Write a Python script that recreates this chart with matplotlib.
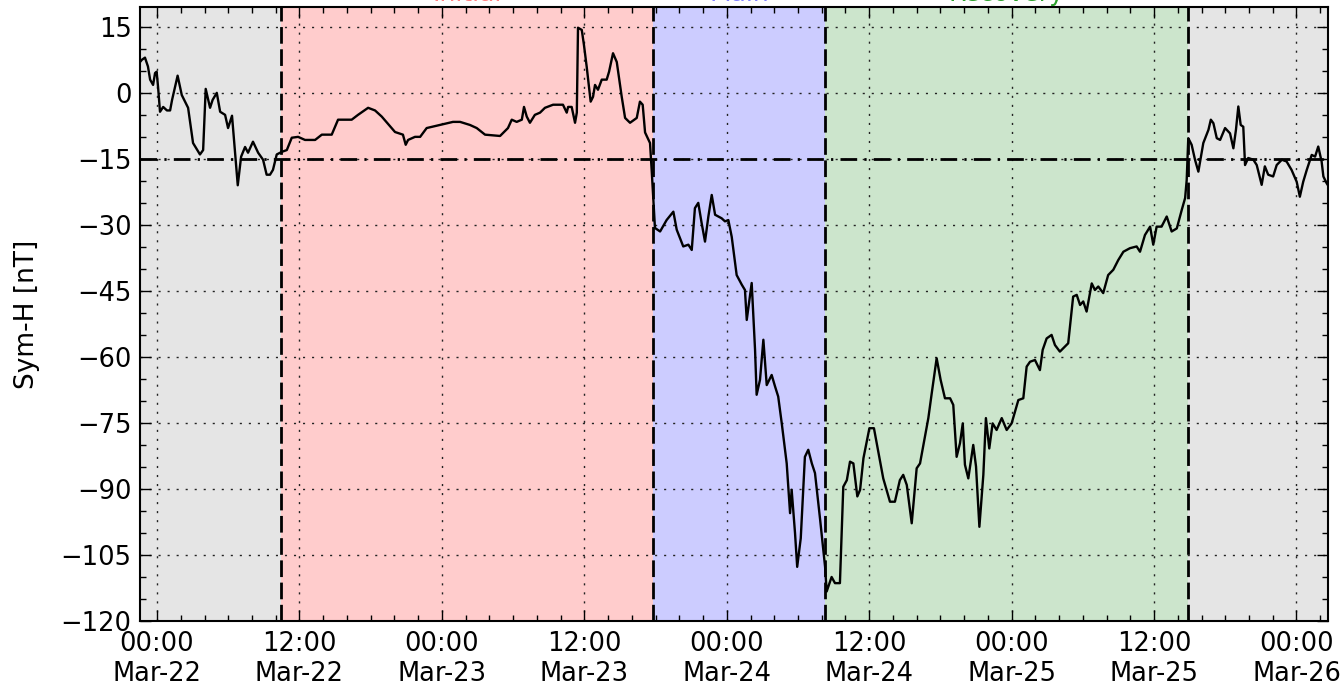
import numpy as np
import matplotlib
matplotlib.use("Agg")
import matplotlib.pyplot as plt
import matplotlib.dates as mdates
from matplotlib.ticker import MultipleLocator
from matplotlib.transforms import blended_transform_factory

# hours after 00:00 Mar-22 and Sym-H [nT]
hours = [
    -1.43, -1.29, -1.01, -0.76, -0.59, -0.34, -0.17, -0.03, 0.08, 0.25, 0.51, 0.84, 1.10, 1.26,
    1.74, 2.08, 2.61, 3.03, 3.62, 3.88, 4.10, 4.47, 4.69, 5.03, 5.31, 5.73, 5.98, 6.32,
    6.49, 6.80, 7.08, 7.41, 7.67, 8.09, 8.51, 8.93, 9.24, 9.52, 9.77, 10.08, 10.51, 10.93,
    11.35, 11.88, 12.47, 13.31, 13.88, 14.72, 15.25, 16.40, 16.93, 17.78, 18.37, 18.93, 20.05,
    20.72, 20.95, 21.15, 21.74, 22.16, 22.72, 23.84, 24.94, 25.53, 26.37, 26.93, 27.63, 28.90,
    29.57, 29.88, 30.30, 30.73, 30.92, 31.15, 31.42, 31.84, 32.27, 32.69, 33.36, 34.20, 34.52,
    34.63, 34.94, 35.21, 35.36, 35.47, 35.78, 35.97, 36.20, 36.54, 36.73, 36.90, 37.15, 37.46,
    37.89, 38.08, 38.42, 38.73, 39.15, 39.43, 39.85, 40.41, 40.69, 40.92, 41.11, 41.53, 41.68,
    41.81, 41.95, 42.38, 42.94, 43.50, 43.78, 44.34, 44.76, 45.05, 45.32, 45.60, 45.89, 46.17,
    46.45, 46.73, 47.01, 47.57, 47.85, 48.13, 48.42, 48.84, 49.26, 49.54, 49.68, 50.10, 50.38,
    50.52, 50.80, 51.08, 51.36, 51.79, 52.06, 52.34, 52.63, 53.05, 53.33, 53.47, 53.75, 53.94,
    54.23, 54.59, 54.87, 55.16, 55.43, 55.86, 56.28, 56.42, 56.84, 57.12, 57.54, 57.82, 58.11,
    58.38, 58.66, 59.00, 59.23, 59.51, 60.01, 60.40, 61.19, 61.75, 62.17, 62.59, 62.87, 63.16,
    63.58, 64.00, 64.28, 64.56, 64.98, 65.27, 65.69, 66.02, 66.39, 66.81, 67.09, 67.37, 67.65,
    67.88, 68.07, 68.35, 68.77, 69.00, 69.28, 69.62, 69.84, 70.12, 70.40, 70.74, 71.16, 71.58,
    72.00, 72.56, 72.98, 73.27, 73.55, 73.97, 74.39, 74.62, 74.95, 75.37, 75.65, 76.07, 76.77,
    77.19, 77.48, 77.76, 78.04, 78.32, 78.75, 79.02, 79.30, 79.72, 80.14, 80.57, 80.99, 81.41,
    81.97, 82.54, 82.81, 83.24, 83.66, 83.94, 84.22, 84.64, 85.06, 85.48, 85.91, 86.33, 86.61,
    86.75, 86.89, 87.17, 87.45, 87.73, 88.15, 88.58, 88.78, 89.00, 89.28, 89.56, 89.98, 90.40,
    90.68, 90.90, 91.10, 91.30, 91.52, 91.66, 91.94, 92.36, 92.65, 93.07, 93.34, 93.62, 94.04,
    94.33, 94.76, 95.17, 95.59, 96.01, 96.29, 96.57, 96.86, 97.28, 97.56, 97.84, 98.12, 98.26,
    98.54, 98.65,
]
symh = [
    7.0, 7.5, 8.0, 6.0, 3.0, 1.8, 4.5, 4.8, 1.4, -4.3, -3.2, -4.0, -4.0, -1.6,
    3.9, -0.5, -3.4, -11.4, -14.0, -13.0, 0.9, -3.4, -1.6, 0.0, -4.3, -5.0, -8.0, -5.2,
    -10.7, -21.0, -14.5, -12.3, -13.6, -11.1, -13.6, -15.2, -18.6, -18.6, -17.5, -14.0, -13.4, -13.0,
    -10.2, -10.0, -10.7, -10.7, -9.5, -9.5, -6.1, -6.1, -5.0, -3.4, -4.0, -5.4, -8.9,
    -9.5, -11.8, -10.7, -10.0, -10.0, -8.0, -7.3, -6.6, -6.6, -7.3, -8.0, -9.5, -9.8,
    -8.0, -6.1, -6.6, -6.1, -3.2, -5.4, -6.8, -5.0, -4.5, -3.4, -2.7, -2.7, -4.5,
    -3.2, -3.2, -6.8, -4.5, 14.8, 14.3, 10.9, 5.9, -2.0, -0.9, 1.8, 0.7, 3.0,
    3.0, 4.8, 9.0, 7.0, -0.9, -5.7, -6.8, -5.7, -2.0, -2.7, -9.0, -11.4, -18.0,
    -24.3, -30.7, -31.5, -28.9, -27.0, -31.1, -34.9, -34.5, -35.7, -26.2, -25.0, -29.6, -33.8,
    -28.1, -23.2, -27.7, -28.5, -29.2, -28.9, -32.7, -41.4, -43.6, -44.8, -51.6, -43.2, -58.4,
    -68.6, -65.2, -56.1, -66.4, -64.1, -66.7, -69.0, -75.1, -84.2, -95.5, -90.2, -100.0, -107.7,
    -101.2, -82.7, -81.1, -84.2, -86.4, -97.0, -107.7, -113.3, -110.0, -111.4, -111.4, -89.5, -88.0,
    -83.8, -84.2, -91.7, -90.2, -83.0, -76.2, -76.2, -87.6, -92.9, -92.9, -88.0, -86.8, -89.1,
    -97.8, -85.3, -84.2, -80.0, -73.9, -68.3, -60.3, -65.2, -69.4, -69.4, -70.9, -82.7, -79.6,
    -75.1, -84.5, -87.6, -80.0, -84.9, -98.6, -86.8, -73.9, -80.8, -75.1, -76.6, -73.9, -76.6,
    -75.1, -69.8, -69.4, -62.2, -61.1, -60.7, -63.0, -58.4, -55.8, -55.0, -57.3, -58.8, -56.9,
    -46.3, -45.9, -48.2, -47.4, -49.7, -43.3, -44.8, -44.0, -45.5, -41.4, -40.2, -38.0, -36.1,
    -35.3, -34.9, -36.1, -32.3, -30.4, -34.5, -30.4, -30.4, -28.1, -31.5, -30.8, -26.6, -23.9,
    -19.8, -10.3, -11.8, -15.2, -17.9, -11.4, -8.4, -6.1, -6.9, -10.3, -10.7, -8.0, -9.2,
    -12.6, -8.4, -3.1, -7.3, -7.7, -16.4, -14.8, -15.2, -16.4, -20.9, -16.7, -18.6, -19.0,
    -16.4, -15.2, -15.6, -17.5, -20.2, -23.6, -20.2, -17.5, -14.1, -14.5, -12.2, -15.6, -19.0,
    -20.5, -21.0,
]

# storm phase boundaries (hours after 00:00 Mar-22)
phase_edges = [10.45, 41.8, 56.3, 86.85]
phase_names = ["Initial", "Main", "Recovery"]
phase_colors = ["red", "blue", "green"]
phase_text_colors = ["#ff8080", "#8080ff", "#2ca02c"]
quiet_level = -15
x_range = (-1.43, 98.65)

start = np.datetime64("2015-03-22T00:00")


def to_time(h):
    return start + np.round(np.asarray(h) * 60).astype(int).astype("timedelta64[m]")


t = to_time(hours)
edges = to_time(phase_edges)
t0, t1 = to_time(x_range)

fig = plt.figure(figsize=(13.4, 6.88), dpi=100)
ax = fig.add_axes([0.1045, 0.0974, 0.8865, 0.8924])

# background shading: quiet periods gray, storm phases coloured
ax.axvspan(t0, edges[0], color="gray", alpha=0.2, lw=0)
ax.axvspan(edges[-1], t1, color="gray", alpha=0.2, lw=0)
for i, c in enumerate(phase_colors):
    ax.axvspan(edges[i], edges[i + 1], color=c, alpha=0.2, lw=0)

for e in edges:
    ax.axvline(e, color="k", lw=2, ls=(0, (6, 2)))
ax.axhline(quiet_level, color="k", lw=2, ls=(0, (6, 2.6, 0.8, 2.6)))

ax.plot(t, symh, color="k", lw=1.7)

# phase names sit just above the frame and are mostly cut off by the figure edge
tr = blended_transform_factory(ax.transData, ax.transAxes)
for i, name in enumerate(phase_names):
    mid = edges[i] + (edges[i + 1] - edges[i]) / 2
    ax.text(mid, 1.0 + 6 / 614, name, transform=tr, ha="center", va="baseline",
            color=phase_text_colors[i], fontsize=18, clip_on=False)

ax.set_xlim(t0, t1)
ax.set_ylim(-120, 19.5)
ax.yaxis.set_major_locator(MultipleLocator(15))
ax.yaxis.set_minor_locator(MultipleLocator(5))
ax.xaxis.set_major_locator(mdates.HourLocator(byhour=[0, 12]))
ax.xaxis.set_minor_locator(mdates.HourLocator(interval=2))
ax.xaxis.set_major_formatter(mdates.DateFormatter("%H:%M\n%b-%d"))

ax.grid(True, which="major", color="#222222", ls=(0, (1.5, 5)), lw=1)
ax.tick_params(which="both", direction="in", top=True, right=True, width=1)
ax.tick_params(which="major", length=8, labelsize=18.5)
ax.tick_params(axis="x", which="major", pad=7)
ax.tick_params(axis="y", which="major", pad=6)
ax.tick_params(which="minor", length=4)
for s in ax.spines.values():
    s.set_linewidth(1.5)

ax.set_ylabel("Sym-H [nT]", fontsize=19)
ax.yaxis.set_label_coords(-0.084, 0.5)

fig.savefig("out.png", dpi=100)
